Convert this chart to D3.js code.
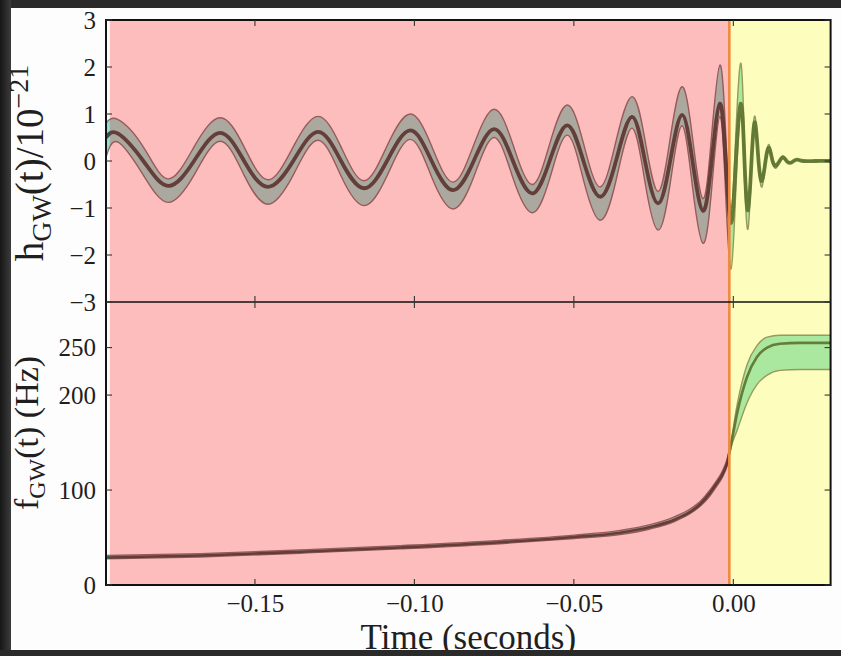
<!DOCTYPE html>
<html><head><meta charset="utf-8">
<script src="https://cdn.jsdelivr.net/npm/d3@7"></script>
<style>body{margin:0;background:#2a2a2a;overflow:hidden}svg{display:block}</style>
</head><body>
<script>
// ---------------- data ----------------
const xTicks = [-0.15, -0.10, -0.05, 0.00];
const xTickLabels = ["\u22120.15", "\u22120.10", "\u22120.05", "0.00"];
const hTicks = [-3, -2, -1, 0, 1, 2, 3];
const hTickLabels = ["\u22123", "\u22122", "\u22121", "0", "1", "2", "3"];
const fTicks = [0, 100, 200, 250];
const fTickLabels = ["0", "100", "200", "250"];
const xDomain = [-0.1967, 0.0305];
const hDomain = [-3, 3];
const fDomain = [0, 298];
const inspiralSpan = [-0.1955, -0.0012];
const ringdownSpan = [-0.0010, 0.0302];
const mergerTime = -0.00125;

// strain h(t)/1e-21 : time (s), central value, upper and lower edge of band
const tStrain = [-0.1967,-0.1929,-0.1850,-0.1772,-0.1691,-0.1609,-0.1534,-0.1459,-0.1380,-0.1302,
  -0.1230,-0.1158,-0.1086,-0.1013,-0.0946,-0.0879,-0.0814,-0.0750,-0.0691,-0.0631,
  -0.0576,-0.0521,-0.0470,-0.0418,-0.0368,-0.0318,-0.0277,-0.0236,-0.0198,-0.0161,
  -0.0128,-0.0095,-0.0068,-0.0042,-0.0024,-0.0007,0.0008,0.0024,0.0035,0.0046,
  0.0057,0.0068,0.0079,0.0090,0.0101,0.0112,0.0123,0.0134,0.0145,0.0156,
  0.0167,0.0178,0.0189,0.0200,0.0218,0.0256,0.0305];
const hMid = [0.50,0.58,0,-0.53,0,0.60,0,-0.55,0,0.62,
  0,-0.58,0,0.65,0,-0.62,0,0.68,0,-0.69,
  0,0.76,0,-0.76,0,0.94,0,-0.90,0,0.98,
  0,-1.06,0,1.22,0,-1.32,0,1.22,0,-1.05,
  0,0.82,0,-0.42,0,0.28,0,-0.10,0,0.08,
  0,-0.04,0,0.03,0,0,0];
const hUp = [0.81,0.88,0.30,-0.38,0.30,0.92,0.30,-0.40,0.30,0.95,
  0.30,-0.42,0.32,1.00,0.32,-0.45,0.34,1.10,0.35,-0.50,
  0.36,1.19,0.38,-0.55,0.42,1.37,0.45,-0.65,0.48,1.58,
  0.50,-0.80,0.55,2.04,0.60,-1.00,0.60,2.08,0.40,-0.90,
  0.20,0.95,0.10,-0.35,0.06,0.35,0.04,-0.06,0.02,0.10,
  0.01,-0.03,0,0.035,0,0,0];
const hLo = [0.08,0.40,-0.30,-0.88,-0.30,0.42,-0.30,-0.92,-0.30,0.44,
  -0.32,-0.95,-0.32,0.46,-0.34,-1.02,-0.34,0.50,-0.36,-1.10,
  -0.38,0.55,-0.40,-1.26,-0.42,0.70,-0.45,-1.47,-0.48,0.75,
  -0.55,-1.75,-0.60,0.95,-0.70,-2.30,-0.60,1.00,-0.40,-1.45,
  -0.20,0.70,-0.10,-0.55,-0.06,0.22,-0.04,-0.15,-0.02,0.05,
  -0.01,-0.05,0,0.025,0,0,0];

// frequency f(t) in Hz : time (s), central value, upper and lower edge of band
const tFreq = [-0.1967,-0.1672,-0.1358,-0.1045,-0.0731,-0.0499,-0.0355,-0.0261,-0.0183,-0.0136,
  -0.0104,-0.0073,-0.0054,-0.0035,-0.0020,-0.0007,0.0012,0.0043,0.0074,0.0106,
  0.0146,0.0209,0.0305];
const fMid = [29,31,35,39.5,45,50.5,55,61,69,77,85,97,106,116,128,148,181,219,240,250,254,255,255];
const fUp  = [31,33,37,41.5,47,52.5,57.5,63.5,72,80,88,100,109,119.5,132,152,190,232,252,261,263,263,263];
const fLo  = [27.5,29.5,33.5,38,43.5,49,53,59,67,75,83,94,103,113,125,145,163,192,211,221,226,227,227];

// ---------------- drawing ----------------
const W = 841, H = 656;
const L = 106, R = 830.6, T = 20, M = 302, B = 585;
const FONT = "'Liberation Serif','Times New Roman',serif";

const svg = d3.select("body").append("svg").attr("width", W).attr("height", H);
const defs = svg.append("defs");
const g1 = defs.append("linearGradient").attr("id","lg").attr("x1",0).attr("x2",1).attr("y1",0).attr("y2",0);
g1.append("stop").attr("offset","0").attr("stop-color","#161616");
g1.append("stop").attr("offset","1").attr("stop-color","#3c3c3c");

svg.append("rect").attr("width", W).attr("height", H).attr("fill", "#2a2a2a");
svg.append("rect").attr("x", 0).attr("y", 0).attr("width", 11).attr("height", H).attr("fill", "url(#lg)");
svg.append("rect").attr("x", 11).attr("y", 8).attr("width", W - 11).attr("height", 642).attr("fill", "#fdfdfd");

const x = d3.scaleLinear().domain(xDomain).range([L, R]);
const yh = d3.scaleLinear().domain(hDomain).range([M, T]);
const yf = d3.scaleLinear().domain(fDomain).range([B, M]);

defs.append("clipPath").attr("id","cTop").append("rect").attr("x",L).attr("y",T).attr("width",R-L).attr("height",M-T);
defs.append("clipPath").attr("id","cBot").append("rect").attr("x",L).attr("y",M).attr("width",R-L).attr("height",B-M);

const bandFill = "#8ee0d5", edgeCol = "#747a78", lineCol = "#284640";

// strain panel
const strain = tStrain.map((t,i)=>({t, m:hMid[i], u:hUp[i], l:hLo[i]}));
const gTop = svg.append("g").attr("clip-path","url(#cTop)");
gTop.append("path").datum(strain).attr("fill", bandFill)
  .attr("d", d3.area().curve(d3.curveNatural).x(d=>x(d.t)).y0(d=>yh(d.l)).y1(d=>yh(d.u)));
[ "u", "l" ].forEach(k=>{
  gTop.append("path").datum(strain).attr("fill","none").attr("stroke",edgeCol).attr("stroke-width",1.4)
    .attr("d", d3.line().curve(d3.curveNatural).x(d=>x(d.t)).y(d=>yh(d[k])));
});
gTop.append("path").datum(strain).attr("fill","none").attr("stroke",lineCol).attr("stroke-width",3.8)
  .attr("stroke-opacity",0.92)
  .attr("d", d3.line().curve(d3.curveNatural).x(d=>x(d.t)).y(d=>yh(d.m)));

// frequency panel
const freq = tFreq.map((t,i)=>({t, m:fMid[i], u:fUp[i], l:fLo[i]}));
const gBot = svg.append("g").attr("clip-path","url(#cBot)");
gBot.append("path").datum(freq).attr("fill", bandFill)
  .attr("d", d3.area().curve(d3.curveMonotoneX).x(d=>x(d.t)).y0(d=>yf(d.l)).y1(d=>yf(d.u)));
[ "u", "l" ].forEach(k=>{
  gBot.append("path").datum(freq).attr("fill","none").attr("stroke",edgeCol).attr("stroke-width",1.4)
    .attr("d", d3.line().curve(d3.curveMonotoneX).x(d=>x(d.t)).y(d=>yf(d[k])));
});
gBot.append("path").datum(freq).attr("fill","none").attr("stroke",lineCol).attr("stroke-width",2.6)
  .attr("stroke-opacity",0.92)
  .attr("d", d3.line().curve(d3.curveMonotoneX).x(d=>x(d.t)).y(d=>yf(d.m)));

// translucent spans over the curves
svg.append("rect").attr("x", x(inspiralSpan[0])).attr("y", T)
  .attr("width", x(inspiralSpan[1]) - x(inspiralSpan[0])).attr("height", B - T)
  .attr("fill", "rgb(255,0,0)").attr("fill-opacity", 0.25);
svg.append("rect").attr("x", x(ringdownSpan[0])).attr("y", T)
  .attr("width", x(ringdownSpan[1]) - x(ringdownSpan[0])).attr("height", B - T)
  .attr("fill", "rgb(255,255,0)").attr("fill-opacity", 0.25);
svg.append("line").attr("x1", x(mergerTime)).attr("x2", x(mergerTime)).attr("y1", T).attr("y2", B)
  .attr("stroke", "#f08a3c").attr("stroke-width", 2.6);

// axes frames
const axCol = "#111";
svg.append("rect").attr("x", L).attr("y", T).attr("width", R - L).attr("height", B - T)
  .attr("fill", "none").attr("stroke", axCol).attr("stroke-width", 2);
svg.append("line").attr("x1", L).attr("x2", R).attr("y1", M).attr("y2", M)
  .attr("stroke", axCol).attr("stroke-width", 1.6);

// ticks
const tk = 6, tkCol = "#333";
function tickLine(x1,y1,x2,y2){svg.append("line").attr("x1",x1).attr("y1",y1).attr("x2",x2).attr("y2",y2)
  .attr("stroke",tkCol).attr("stroke-width",1.1);}
xTicks.forEach(v=>{
  const px = x(v);
  tickLine(px, B, px, B - tk);
  tickLine(px, M - tk, px, M + tk);
  tickLine(px, T, px, T + tk);
});
hTicks.forEach(v=>{ const py = yh(v); tickLine(L, py, L + tk, py); tickLine(R, py, R - tk, py); });
fTicks.forEach(v=>{ const py = yf(v); tickLine(L, py, L + tk, py); tickLine(R, py, R - tk, py); });

// tick labels
const txtCol = "#1f1f1f";
const axX = d3.axisBottom(x).tickValues(xTicks).tickFormat((d,i)=>xTickLabels[i]).tickSize(0).tickPadding(0);
const gx = svg.append("g").attr("transform", `translate(0,${B})`).call(axX);
gx.select(".domain").remove();
gx.selectAll("text").attr("dy", null).attr("y", 27).style("font-family", FONT).style("font-size", "25px").attr("fill", txtCol);

const axH = d3.axisLeft(yh).tickValues(hTicks).tickFormat((d,i)=>hTickLabels[i]).tickSize(0).tickPadding(10);
const gh = svg.append("g").attr("transform", `translate(${L},0)`).call(axH);
gh.select(".domain").remove();
gh.selectAll("text").attr("dy", "0.32em").style("font-family", FONT).style("font-size", "25px").attr("fill", txtCol);

const axF = d3.axisLeft(yf).tickValues(fTicks).tickFormat((d,i)=>fTickLabels[i]).tickSize(0).tickPadding(10);
const gf = svg.append("g").attr("transform", `translate(${L},0)`).call(axF);
gf.select(".domain").remove();
gf.selectAll("text").attr("dy", "0.32em").style("font-family", FONT).style("font-size", "25px").attr("fill", txtCol);

// axis titles
svg.append("text").attr("x", (L + R) / 2).attr("y", 649).attr("text-anchor", "middle")
  .style("font-family", FONT).style("font-size", "35px").attr("fill", txtCol).text("Time (seconds)");

const hl = svg.append("text").attr("transform", `translate(43,163) rotate(-90)`)
  .attr("text-anchor", "middle").style("font-family", FONT).style("font-size", "39px").attr("fill", txtCol);
hl.append("tspan").text("h");
hl.append("tspan").attr("dy", 8).style("font-size", "28px").text("GW");
hl.append("tspan").attr("dy", -8).text("(t)/10");
hl.append("tspan").attr("dy", -15).style("font-size", "28px").text("\u221221");

const fl = svg.append("text").attr("transform", `translate(38,433) rotate(-90)`)
  .attr("text-anchor", "middle").style("font-family", FONT).style("font-size", "34px").attr("fill", txtCol);
fl.append("tspan").text("f");
fl.append("tspan").attr("dy", 7).style("font-size", "24px").text("GW");
fl.append("tspan").attr("dy", -7).text("(t) (Hz)");

// bottom dark edge of the frame
svg.append("rect").attr("x", 0).attr("y", 650).attr("width", W).attr("height", H - 650).attr("fill", "#2a2a2a");
</script>
</body></html>
